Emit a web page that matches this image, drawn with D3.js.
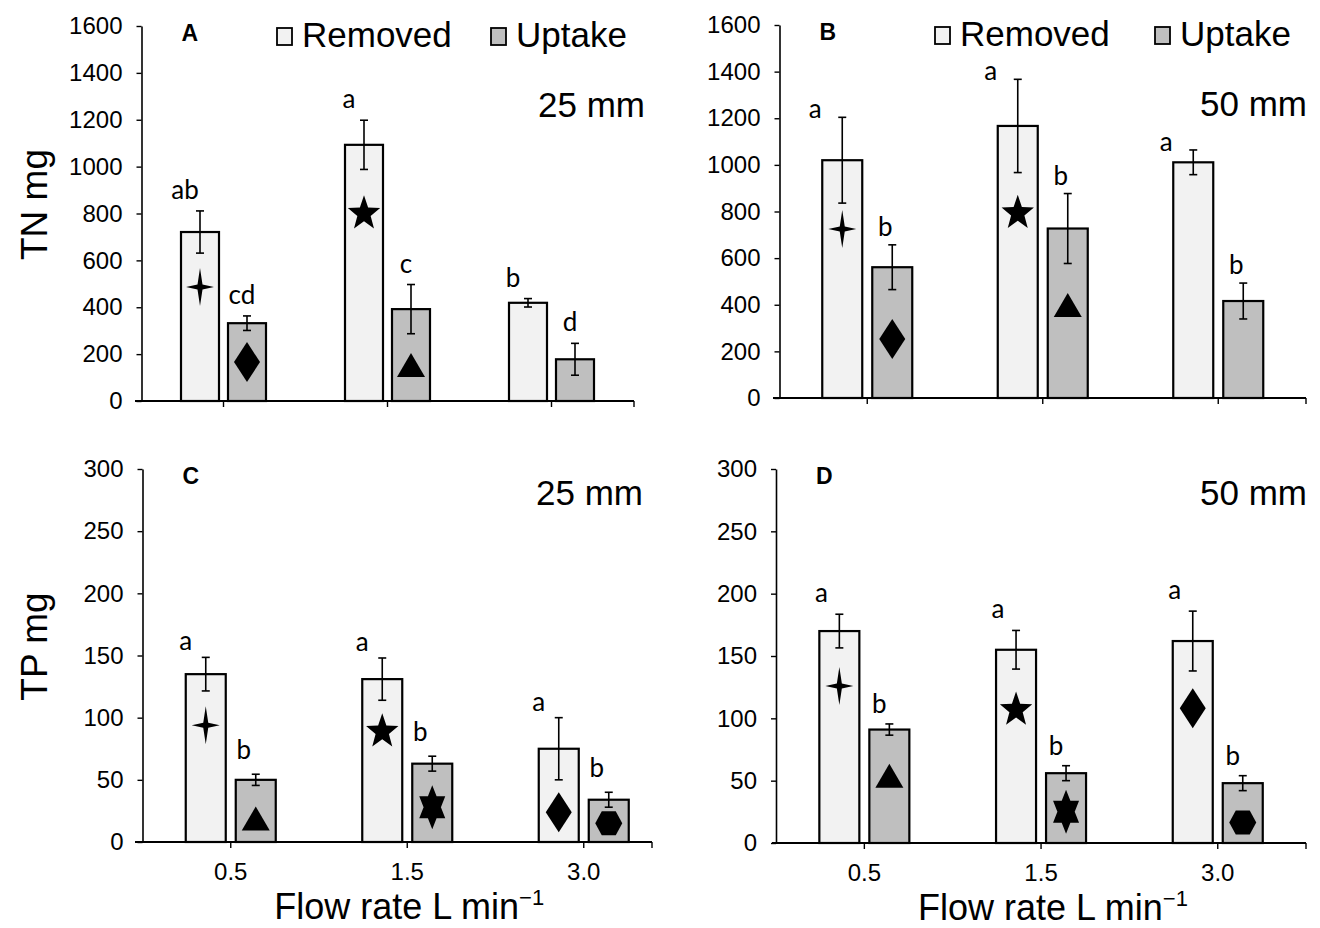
<!DOCTYPE html>
<html>
<head>
<meta charset="utf-8">
<script src="https://cdn.jsdelivr.net/npm/d3@7"></script>
<style>
  body { margin: 0; background: #fff; }
  text { font-family: "Liberation Sans", Arial, sans-serif; fill: #000; }
  .sig { font-family: Lato, "Open Sans", sans-serif; }
</style>
</head>
<body>
<div id="chart"></div>
<script>
// flow rates (categories) and series
const categories = ["0.5", "1.5", "3.0"];
const seriesNames = ["Removed", "Uptake"];

// TN (mg), 25 mm
const tnRemoved25 = [721, 1093, 419];
const tnRemoved25Err = [90, 105, 18];
const tnUptake25 = [332, 392, 178];
const tnUptake25Err = [31, 105, 68];
// TN (mg), 50 mm
const tnRemoved50 = [1020, 1167, 1011];
const tnRemoved50Err = [184, 200, 53];
const tnUptake50 = [561, 727, 416];
const tnUptake50Err = [96, 150, 77];
// TP (mg), 25 mm
const tpRemoved25 = [135, 131, 75];
const tpRemoved25Err = [13.5, 17, 25];
const tpUptake25 = [50, 63, 34];
const tpUptake25Err = [4.5, 6, 6];
// TP (mg), 50 mm
const tpRemoved50 = [170, 155, 162];
const tpRemoved50Err = [13.5, 15.5, 24];
const tpUptake50 = [91, 56, 48];
const tpUptake50Err = [4.5, 6, 6];

// significance letters
const lettersRemovedA = ["ab", "a", "b"], lettersUptakeA = ["cd", "c", "d"];
const lettersRemovedB = ["a", "a", "a"], lettersUptakeB = ["b", "b", "b"];
const lettersRemovedC = ["a", "a", "a"], lettersUptakeC = ["b", "b", "b"];
const lettersRemovedD = ["a", "a", "a"], lettersUptakeD = ["b", "b", "b"];

// marker symbols inside the bars, and the value level they sit at
const symRemovedA = ["star4", "star5", null], symRemovedAAt = [486, 806, null];
const symUptakeA = ["diamond", "triangle", null], symUptakeAAt = [166, 154, null];
const symRemovedB = ["star4", "star5", null], symRemovedBAt = [725, 799, null];
const symUptakeB = ["diamond", "triangle", null], symUptakeBAt = [253, 399, null];
const symRemovedC = ["star4", "star5", "diamond"], symRemovedCAt = [94, 90, 24];
const symUptakeC = ["triangle", "star6", "hexagon"], symUptakeCAt = [19, 28, 15];
const symRemovedD = ["star4", "star5", "diamond"], symRemovedDAt = [126, 108, 108];
const symUptakeD = ["triangle", "star6", "hexagon"], symUptakeDAt = [54, 25, 16.5];

const tnTicks = d3.range(0, 1601, 200);
const tpTicks = d3.range(0, 301, 50);

const colors = {Removed: "#f2f2f2", Uptake: "#bfbfbf"};

const svg = d3.select("#chart").append("svg")
    .attr("width", 1320)
    .attr("height", 928);
svg.append("rect").attr("width", 1320).attr("height", 928).attr("fill", "#fff");

function pts(a) { return "M" + a.map(p => p.join(",")).join("L") + "Z"; }

function symbolPath(kind) {
    if (kind === "star4") {
        return pts([[0,-19],[2.5,-2.5],[14,0],[2.5,2.5],[0,19],[-2.5,2.5],[-14,0],[-2.5,-2.5]]);
    }
    if (kind === "star5") {
        const p = [];
        for (let i = 0; i < 10; i++) {
            const r = i % 2 ? 7 : 17;
            const a = -Math.PI / 2 + i * Math.PI / 5;
            p.push([r * Math.cos(a), r * Math.sin(a) * 1.08 + 1.5]);
        }
        return pts(p);
    }
    if (kind === "diamond") return pts([[0,-20],[13,0],[0,20],[-13,0]]);
    if (kind === "triangle") return pts([[0,-12],[14,12],[-14,12]]);
    if (kind === "star6") {
        return pts([[0,-22],[13,11],[-13,11]]) + pts([[0,22],[-13,-11],[13,-11]]);
    }
    if (kind === "hexagon") return pts([[-13.5,0],[-7,-12],[7,-12],[13.5,0],[7,12],[-7,12]]);
    return "";
}

function drawPanel(p) {
    const g = svg.append("g");
    const y = d3.scaleLinear().domain([0, p.max]).range([p.y0, p.y1]);
    const x0 = d3.scaleBand().domain(categories).range([p.xa, p.xa + 3 * p.step]);
    const half = p.barW + p.gap / 2;
    const x1 = d3.scaleBand().domain(seriesNames)
        .range([-half, half]).paddingInner(p.gap / (p.barW + p.gap));

    // y axis
    const yAxis = g.append("g")
        .attr("transform", `translate(${p.xa},0)`)
        .call(d3.axisLeft(y).tickValues(p.ticks).tickFormat(d3.format("d"))
            .tickSize(5).tickSizeOuter(0).tickPadding(14));
    yAxis.select(".domain").attr("stroke-width", 1.6);
    yAxis.selectAll(".tick line").attr("stroke-width", 1.4);
    yAxis.selectAll("text").style("font-size", "24px").attr("font-family", null);

    // x axis
    const xAxis = g.append("g")
        .attr("transform", `translate(0,${p.y0})`)
        .call(d3.axisBottom(x0).tickSize(6).tickSizeOuter(0).tickPadding(15)
            .tickFormat(p.xLabels ? (d => d) : ""));
    xAxis.select(".domain").remove();
    xAxis.selectAll(".tick line").attr("stroke-width", 1.4);
    xAxis.selectAll("text").style("font-size", "24px").attr("font-family", null);
    xAxis.append("line")
        .attr("x1", p.xStart).attr("x2", p.xEnd)
        .attr("stroke", "#000").attr("stroke-width", 1.8);
    xAxis.append("line")
        .attr("x1", p.xEnd).attr("x2", p.xEnd).attr("y2", 6)
        .attr("stroke", "#000").attr("stroke-width", 1.4);

    const rows = [];
    categories.forEach((c, i) => {
        p.series.forEach(s => {
            rows.push({cat: c, name: s.name, v: s.values[i], e: s.err[i],
                letter: s.letters[i], sym: s.sym[i], symAt: s.symAt[i]});
        });
    });
    const bx = d => x0(d.cat) + x0.bandwidth() / 2 + x1(d.name);
    const cx = d => bx(d) + x1.bandwidth() / 2;

    g.selectAll(".bar").data(rows).join("rect")
        .attr("x", bx)
        .attr("y", d => y(d.v))
        .attr("width", x1.bandwidth())
        .attr("height", d => y(0) - y(d.v))
        .attr("fill", d => colors[d.name])
        .attr("stroke", "#000")
        .attr("stroke-width", 2.2);

    // error bars
    const eb = g.selectAll(".err").data(rows).join("g")
        .attr("transform", d => `translate(${cx(d)},0)`)
        .attr("stroke", "#000").attr("stroke-width", 1.6);
    eb.append("line").attr("y1", d => y(d.v - d.e)).attr("y2", d => y(d.v + d.e));
    eb.append("line").attr("x1", -4).attr("x2", 4).attr("y1", d => y(d.v + d.e)).attr("y2", d => y(d.v + d.e));
    eb.append("line").attr("x1", -4).attr("x2", 4).attr("y1", d => y(d.v - d.e)).attr("y2", d => y(d.v - d.e));

    // symbols
    g.selectAll(".sym").data(rows.filter(d => d.sym)).join("path")
        .attr("transform", d => `translate(${cx(d)},${y(d.symAt)})`)
        .attr("d", d => symbolPath(d.sym))
        .attr("fill", "#000");

    // significance letters
    const lo = p.letterOff;
    g.selectAll(".sig").data(rows).join("text")
        .attr("class", "sig")
        .attr("x", d => cx(d) + (d.name === "Removed" ? lo.rx : lo.ux))
        .attr("y", d => y(d.v + d.e) - (d.name === "Removed" ? lo.ry : lo.uy))
        .attr("text-anchor", "middle")
        .style("font-size", "26px")
        .text(d => d.letter);

    g.append("text")
        .attr("x", p.xa + 40).attr("y", p.y1 + 15)
        .style("font-size", "23px").style("font-weight", "bold")
        .text(p.tag);

    g.append("text")
        .attr("x", p.depthX).attr("y", p.y1 + p.depthDy)
        .attr("text-anchor", "end")
        .style("font-size", "35px")
        .text(p.depth);

    if (p.legend) {
        const lg = g.append("g").attr("transform", `translate(${p.legend},${p.y1})`);
        seriesNames.forEach((s, i) => {
            const ox = i * p.legendStep;
            lg.append("rect").attr("x", ox).attr("y", 2).attr("width", 15).attr("height", 17)
                .attr("fill", colors[s]).attr("stroke", "#000").attr("stroke-width", 1.8);
            lg.append("text").attr("x", ox + 25).attr("y", 21)
                .style("font-size", "35px").text(s);
        });
    }

    if (p.yTitle) {
        g.append("text")
            .attr("transform", `translate(47,${(p.y0 + p.y1) / 2 - 9}) rotate(-90)`)
            .attr("text-anchor", "middle")
            .style("font-size", "37px")
            .text(p.yTitle);
    }
    if (p.xTitle) {
        const t = g.append("text")
            .attr("x", (p.xa + p.xEnd) / 2 + 12).attr("y", p.y0 + 77)
            .attr("text-anchor", "middle")
            .style("font-size", "36px");
        t.append("tspan").text("Flow rate L min");
        t.append("tspan").attr("dy", -14).style("font-size", "22px").text("\u22121");
    }
}

drawPanel({tag: "A", depth: "25 mm", max: 1600, ticks: tnTicks,
    xa: 141.5, step: 164, xStart: 135, xEnd: 634, y0: 401, y1: 26,
    barW: 38, gap: 9, legend: 277, legendStep: 214, yTitle: "TN mg",
    depthX: 645, depthDy: 91, letterOff: {rx: -15, ry: 12, ux: -5, uy: 12},
    series: [
        {name: "Removed", values: tnRemoved25, err: tnRemoved25Err, letters: lettersRemovedA, sym: symRemovedA, symAt: symRemovedAAt},
        {name: "Uptake", values: tnUptake25, err: tnUptake25Err, letters: lettersUptakeA, sym: symUptakeA, symAt: symUptakeAAt}
    ]});
drawPanel({tag: "B", depth: "50 mm", max: 1600, ticks: tnTicks,
    xa: 779.5, step: 175.5, xStart: 773, xEnd: 1306, y0: 398, y1: 25,
    barW: 40, gap: 10, legend: 935, legendStep: 220,
    depthX: 1307, depthDy: 91, letterOff: {rx: -27, ry: -1, ux: -7, uy: 9},
    series: [
        {name: "Removed", values: tnRemoved50, err: tnRemoved50Err, letters: lettersRemovedB, sym: symRemovedB, symAt: symRemovedBAt},
        {name: "Uptake", values: tnUptake50, err: tnUptake50Err, letters: lettersUptakeB, sym: symUptakeB, symAt: symUptakeBAt}
    ]});
drawPanel({tag: "C", depth: "25 mm", max: 300, ticks: tpTicks,
    xa: 142.5, step: 176.5, xStart: 135, xEnd: 652, y0: 842, y1: 469,
    barW: 40, gap: 10, yTitle: "TP mg", xLabels: true, xTitle: true,
    depthX: 643, depthDy: 36, letterOff: {rx: -20, ry: 7, ux: -12, uy: 15},
    series: [
        {name: "Removed", values: tpRemoved25, err: tpRemoved25Err, letters: lettersRemovedC, sym: symRemovedC, symAt: symRemovedCAt},
        {name: "Uptake", values: tpUptake25, err: tpUptake25Err, letters: lettersUptakeC, sym: symUptakeC, symAt: symUptakeCAt}
    ]});
drawPanel({tag: "D", depth: "50 mm", max: 300, ticks: tpTicks,
    xa: 776, step: 176.7, xStart: 772, xEnd: 1306, y0: 843, y1: 469,
    barW: 40, gap: 10, xLabels: true, xTitle: true,
    depthX: 1307, depthDy: 36, letterOff: {rx: -18, ry: 12, ux: -10, uy: 11},
    series: [
        {name: "Removed", values: tpRemoved50, err: tpRemoved50Err, letters: lettersRemovedD, sym: symRemovedD, symAt: symRemovedDAt},
        {name: "Uptake", values: tpUptake50, err: tpUptake50Err, letters: lettersUptakeD, sym: symUptakeD, symAt: symUptakeDAt}
    ]});
</script>
</body>
</html>
